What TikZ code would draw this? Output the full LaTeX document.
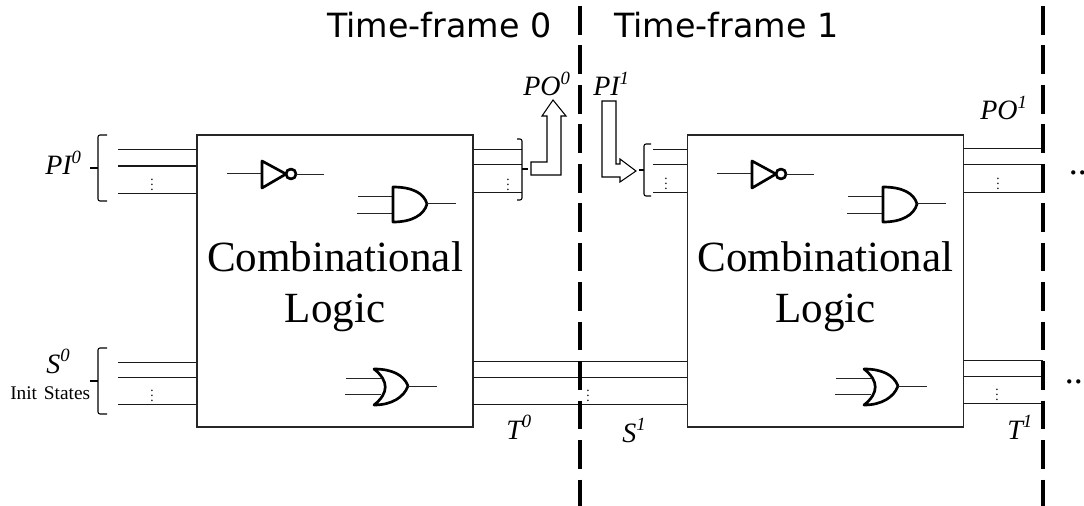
\documentclass[tikz,border=0pt]{standalone}
\usepackage{fontspec}
\setmainfont{Liberation Serif}
\newfontfamily\titlefont{DejaVu Sans}
\usepackage{tikz}
\usetikzlibrary{positioning}
\usetikzlibrary{calc}
\newcommand{\siglabel}[2]{\fontsize{21}{21}\selectfont\textit{#1\raisebox{.42em}{\fontsize{14}{14}\selectfont #2}}}
\tikzset{
	wire/.style={line width=0.75pt,black!90},
	gateline/.style={line width=0.75pt,black!85},
	gatebody/.style={line width=2pt,black,line join=round},
	logicbox/.style={draw,line width=0.9pt,black!85,minimum width=207pt,minimum height=219pt,inner sep=0pt},
	logictext/.style={inner sep=0pt,align=center,font=\fontsize{32.3}{38.5}\selectfont},
	framesep/.style={line width=2.5pt,dash pattern=on 21.5pt off 8.1pt},
	framelabel/.style={anchor=base west,inner sep=0pt,font=\titlefont\fontsize{25}{25}\selectfont},
	siglab/.style={anchor=base west,inner sep=0pt},
	dotsnode/.style={inner sep=0pt,font=\normalsize\boldmath},
	busarrow/.style={line width=0.8pt,black,fill=white,line join=miter},
	bracket/.style={line width=0.8pt,black,rounded corners=1.5pt},
}
\begin{document}
\begin{tikzpicture}[x=0.75pt,y=-0.75pt]
	\useasboundingbox (0,0) rectangle (1084,506);
	% logic blocks
	\node[logicbox] (logic0) at (335,281) {};
	\node[logicbox] (logic1) at (825.5,281) {};
	\node[logictext,yshift=-4.5pt] (logic0text) at (logic0.center) {Combinational\\Logic};
	\node[logictext,yshift=-4.5pt] (logic1text) at (logic1.center) {Combinational\\Logic};
	% frame separators
	\coordinate (sep0top) at (580,6);
	\coordinate (sep0bot) at (580,506);
	\coordinate (sep1top) at (1043,6);
	\coordinate (sep1bot) at (1043,506);
	% wires, first frame
	\coordinate (pi0a) at (118,150);
	\coordinate (pi0b) at (118,166);
	\coordinate (pi0c) at (118,193);
	\coordinate (s0a) at (118,362);
	\coordinate (s0b) at (118,377);
	\coordinate (s0c) at (118,404);
	\draw[wire] (pi0a) -- (pi0a -| logic0.west);
	\draw[wire] (pi0b) -- (pi0b -| logic0.west);
	\draw[wire] (pi0c) -- (pi0c -| logic0.west);
	\draw[wire] (s0a) -- (s0a -| logic0.west);
	\draw[wire] (s0b) -- (s0b -| logic0.west);
	\draw[wire] (s0c) -- (s0c -| logic0.west);
	\coordinate (po0a) at (522,150);
	\coordinate (po0b) at (522,165);
	\coordinate (po0c) at (522,192);
	\draw[wire] (po0a -| logic0.east) -- (po0a);
	\draw[wire] (po0b -| logic0.east) -- (po0b);
	\draw[wire] (po0c -| logic0.east) -- (po0c);
	% state wires across the frames
	\coordinate (t0a) at (473,361);
	\coordinate (t0b) at (473,377);
	\coordinate (t0c) at (473,404);
	\draw[wire] (t0a) -- (t0a -| logic1.west);
	\draw[wire] (t0b) -- (t0b -| logic1.west);
	\draw[wire] (t0c) -- (t0c -| logic1.west);
	% wires, second frame
	\coordinate (pi1a) at (653,150);
	\coordinate (pi1b) at (653,165);
	\coordinate (pi1c) at (653,192);
	\draw[wire] (pi1a) -- (pi1a -| logic1.west);
	\draw[wire] (pi1b) -- (pi1b -| logic1.west);
	\draw[wire] (pi1c) -- (pi1c -| logic1.west);
	\coordinate (po1a) at (964,149);
	\coordinate (po1b) at (964,165);
	\coordinate (po1c) at (964,192);
	\coordinate (t1a) at (964,360);
	\coordinate (t1b) at (964,376);
	\coordinate (t1c) at (964,403);
	\draw[wire] (po1a) -- (po1a -| sep1top);
	\draw[wire] (po1b) -- (po1b -| sep1top);
	\draw[wire] (po1c) -- (po1c -| sep1top);
	\draw[wire] (t1a) -- (t1a -| sep1top);
	\draw[wire] (t1b) -- (t1b -| sep1top);
	\draw[wire] (t1c) -- (t1c -| sep1top);
	\draw[framesep] (sep0top) -- (sep0bot);
	\draw[framesep] (sep1top) -- (sep1bot);
	% brackets
	\draw[bracket] (107,135) -- (98,135) -- (98,201) -- (107,201);
	\draw[bracket,sharp corners] (90,168) -- (98,168);
	\draw[bracket] (107,348) -- (98,348) -- (98,414) -- (107,414);
	\draw[bracket,sharp corners,line width=1.1pt] (90,381) -- (98,381);
	\draw[bracket] (517,139) -- (522,139) -- (522,200) -- (517,200);
	\draw[bracket,sharp corners] (522,169) -- (528,169);
	\draw[bracket] (651,144) -- (644,144) -- (644,196) -- (651,196);
	\draw[bracket,sharp corners] (639,170) -- (644,170);
	% bus arrows
	\draw[busarrow] (531,162) -- (547,162) -- (547,116) -- (542,116) -- (553,100) -- (566,116) -- (561,116) -- (561,175) -- (531,175) -- cycle;
	\draw[busarrow] (602,101) -- (616,101) -- (616,164) -- (620,164) -- (620,159) -- (636,171) -- (620,182) -- (620,177) -- (602,177) -- cycle;
	% first frame gates
	\draw[gateline] (227,173) -- (261,173);
	\draw[gatebody] (262,161) -- (286,174) -- (262,188) -- cycle;
	\draw[gatebody] (291,174) circle (5);
	\draw[gateline] (296,174) -- (324,174);
	\draw[gateline] (358,196) -- (393,196);
	\draw[gateline] (357,213) -- (393,213);
	\draw[gatebody] (393,187) .. controls (412,187) and (424,193) .. (427,204) .. controls (424,215) and (412,222) .. (393,222) -- cycle;
	\draw[gateline] (427,203) -- (456,203);
	\draw[gateline] (346,378) -- (381,378);
	\draw[gateline] (345,394) -- (381,394);
	\draw[gatebody] (374,369) .. controls (392,369) and (404,375) .. (408,386) .. controls (404,397) and (392,405) .. (374,405) .. controls (389,393) and (389,381) .. (374,369) -- cycle;
	\draw[gateline] (408,386) -- (437,386);
	% second frame gates
	\draw[gateline] (717,173) -- (751,173);
	\draw[gatebody] (752,161) -- (776,174) -- (752,188) -- cycle;
	\draw[gatebody] (781,174) circle (5);
	\draw[gateline] (786,174) -- (814,174);
	\draw[gateline] (848,196) -- (883,196);
	\draw[gateline] (847,213) -- (883,213);
	\draw[gatebody] (883,187) .. controls (902,187) and (914,193) .. (917,204) .. controls (914,215) and (902,222) .. (883,222) -- cycle;
	\draw[gateline] (917,203) -- (946,203);
	\draw[gateline] (836,378) -- (871,378);
	\draw[gateline] (835,394) -- (871,394);
	\draw[gatebody] (864,369) .. controls (882,369) and (894,375) .. (898,386) .. controls (894,397) and (882,405) .. (864,405) .. controls (879,393) and (879,381) .. (864,369) -- cycle;
	\draw[gateline] (898,386) -- (927,386);
	% vertical dots
	\node[dotsnode] (dots0) at (152,181) {$\vdots$};
	\node[dotsnode] (dots1) at (508,181) {$\vdots$};
	\node[dotsnode] (dots2) at (666,180) {$\vdots$};
	\node[dotsnode] (dots3) at (998,180) {$\vdots$};
	\node[dotsnode] (dots4) at (152,392) {$\vdots$};
	\node[dotsnode] (dots5) at (588,392) {$\vdots$};
	\node[dotsnode] (dots6) at (997,391) {$\vdots$};
	% labels
	\node[framelabel] (title0) at (327,38) {Time-frame 0};
	\node[framelabel] (title1) at (614,38) {Time-frame 1};
	\node[siglab] (pi0) at (45,175) {\siglabel{PI}{0}};
	\node[siglab] (po0) at (523,96) {\siglabel{PO}{0}};
	\node[siglab] (pi1) at (593,96) {\siglabel{PI}{1}};
	\node[siglab] (po1) at (980,120) {\siglabel{PO}{1}};
	\node[siglab] (s0) at (46,373) {\siglabel{S}{0}};
	\node[siglab,font=\fontsize{14.5}{14.5}\selectfont] (init) at (10,399) {Init\hspace{1.5pt} States};
	\node[siglab] (t0) at (506,439) {\siglabel{T}{0}};
	\node[siglab] (s1) at (622,442) {\siglabel{S}{1}};
	\node[siglab] (t1) at (1007,439) {\siglabel{T}{1}};
	\node[siglab,font=\fontsize{27}{27}\selectfont] (more0) at (1068.5,175) {..};
	\node[siglab,font=\fontsize{27}{27}\selectfont] (more1) at (1064.5,383) {..};
\end{tikzpicture}
\end{document}
